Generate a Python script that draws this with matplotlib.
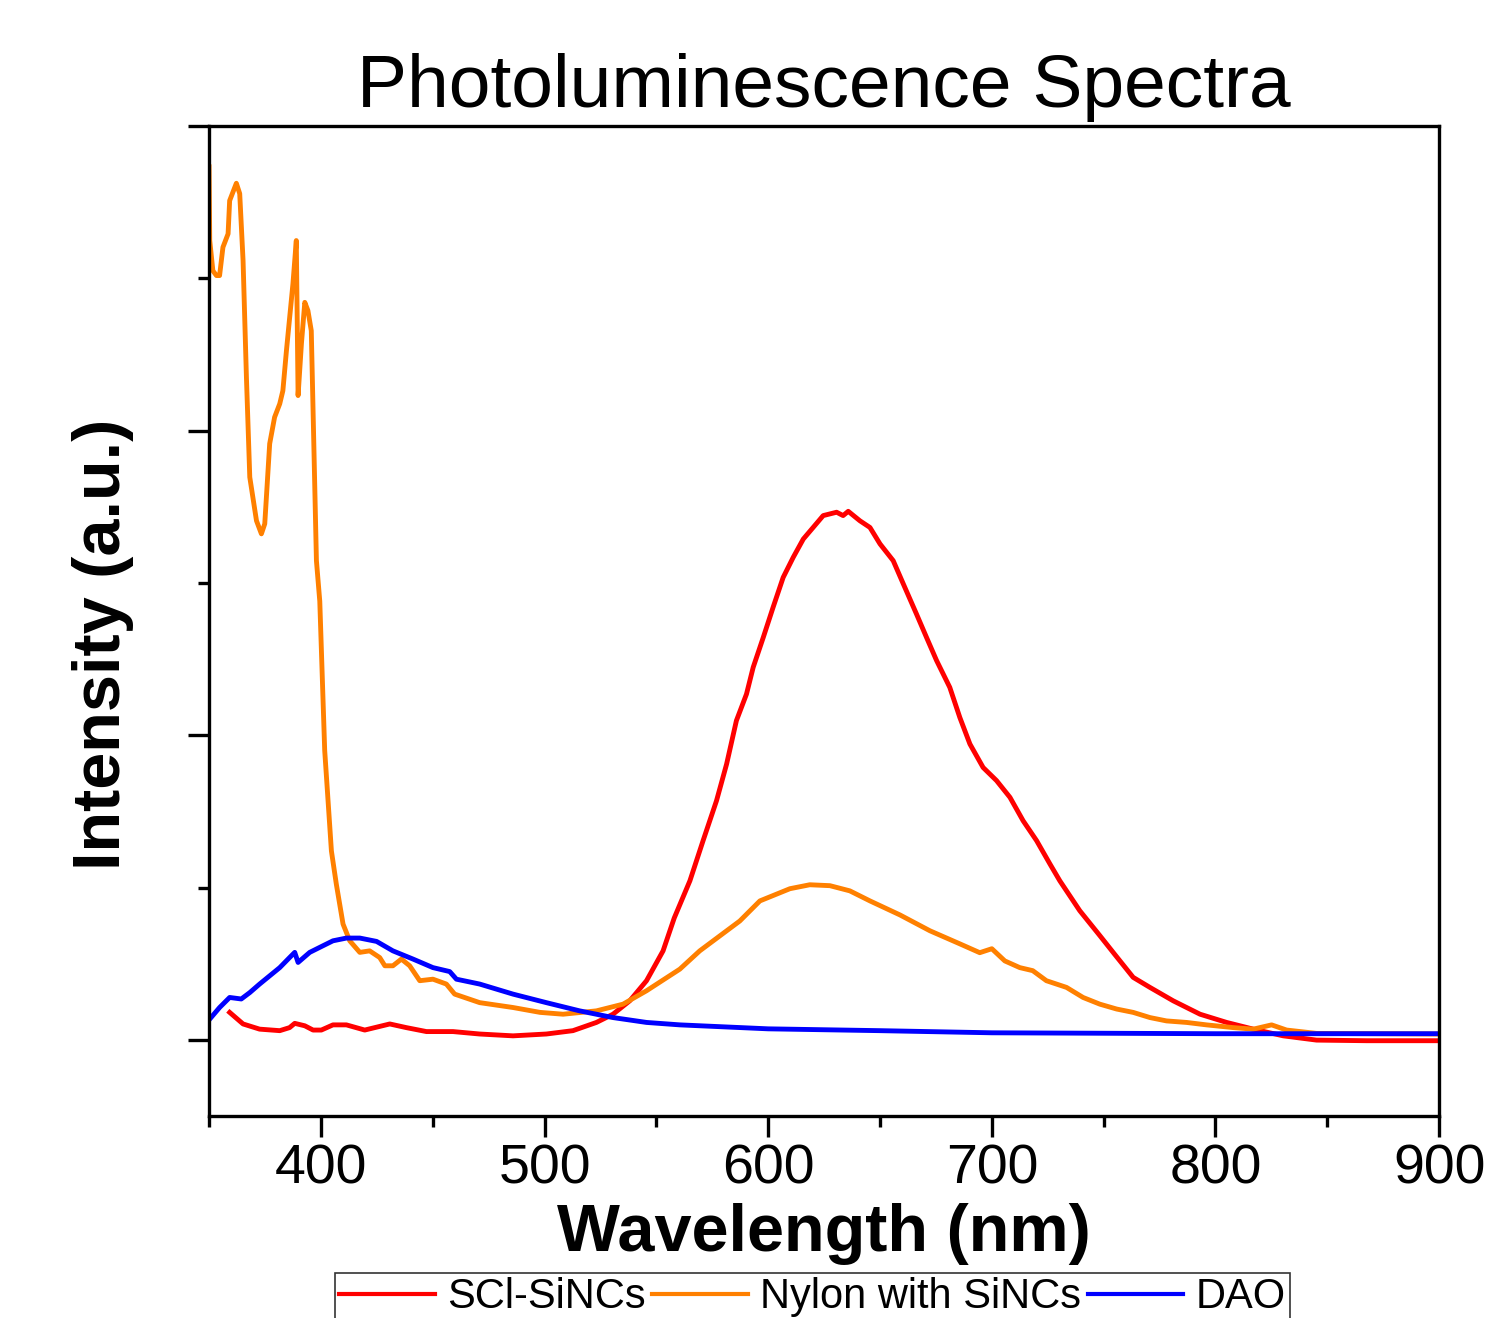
import matplotlib
matplotlib.use("Agg")
import matplotlib.pyplot as plt
from matplotlib.ticker import MultipleLocator, NullFormatter

plt.rcParams['font.family'] = ['Liberation Sans', 'DejaVu Sans']

# ---- data ----
sci_x = [359.2, 365.2, 372.6, 381.6, 386.0, 388.3, 392.8, 396.5, 400.2, 405.4, 411.4, 419.6,
         430.8, 438.2, 447.2, 459.1, 471.0, 485.9, 500.8, 512.7, 523.2, 530.6, 538.1, 545.6,
         553.0, 558.0, 565.0, 570.9, 576.9, 581.4, 585.8, 590.3, 593.3, 597.8, 602.2, 606.7,
         611.2, 615.7, 620.1, 624.6, 630.6, 633.5, 635.8, 641.0, 645.5, 650.0, 655.9, 660.4,
         666.3, 670.8, 675.3, 681.2, 685.7, 690.2, 696.1, 702.1, 708.1, 714.0, 720.0, 726.0,
         730.4, 739.3, 748.3, 755.0, 763.2, 770.7, 781.1, 793.1, 805.0, 816.9, 830.3, 845.2,
         867.6, 898.9]
sci_y = [0.090, 0.052, 0.035, 0.030, 0.040, 0.054, 0.046, 0.032, 0.032, 0.049, 0.049, 0.032,
         0.052, 0.040, 0.027, 0.027, 0.019, 0.013, 0.019, 0.030, 0.057, 0.084, 0.128, 0.194,
         0.292, 0.400, 0.522, 0.654, 0.785, 0.905, 1.048, 1.135, 1.223, 1.321, 1.420, 1.518,
         1.584, 1.644, 1.682, 1.721, 1.732, 1.721, 1.735, 1.704, 1.682, 1.628, 1.573, 1.497,
         1.398, 1.321, 1.245, 1.157, 1.058, 0.971, 0.894, 0.851, 0.796, 0.719, 0.654, 0.577,
         0.522, 0.424, 0.342, 0.280, 0.205, 0.172, 0.128, 0.084, 0.057, 0.035, 0.013, -0.001,
         -0.003, -0.003]

nylon_x = [350.0, 350.3, 351.7, 353.3, 354.7, 356.2, 358.5, 359.2, 362.2, 363.7, 365.2, 366.7,
           368.2, 371.2, 373.4, 374.9, 377.1, 379.3, 381.6, 383.0, 384.6, 387.5, 389.0, 389.8,
           391.3, 392.8, 394.2, 395.7, 396.5, 398.0, 399.5, 401.7, 404.7, 406.9, 409.9, 412.9,
           417.4, 421.8, 426.3, 428.6, 432.2, 436.0, 439.7, 444.2, 450.1, 456.1, 459.8, 471.0,
           485.9, 498.0, 508.3, 523.2, 535.1, 545.6, 560.5, 569.4, 587.3, 596.3, 609.7, 618.6,
           627.6, 636.5, 645.5, 658.9, 672.3, 685.7, 694.6, 700.0, 705.8, 712.5, 718.3, 724.4,
           733.4, 740.8, 748.3, 755.8, 763.2, 770.7, 778.1, 787.1, 796.0, 808.0, 816.9, 825.1,
           831.8, 845.2, 898.9]
nylon_y = [2.866, 2.624, 2.525, 2.509, 2.509, 2.602, 2.646, 2.755, 2.812, 2.778, 2.558, 2.175,
           1.847, 1.704, 1.661, 1.694, 1.957, 2.044, 2.088, 2.131, 2.263, 2.482, 2.624, 2.115,
           2.286, 2.421, 2.394, 2.328, 2.066, 1.573, 1.440, 0.950, 0.620, 0.511, 0.380, 0.325,
           0.287, 0.292, 0.270, 0.243, 0.243, 0.265, 0.243, 0.194, 0.199, 0.183, 0.150, 0.122,
           0.106, 0.090, 0.084, 0.095, 0.117, 0.161, 0.232, 0.292, 0.390, 0.456, 0.496, 0.509,
           0.506, 0.489, 0.456, 0.410, 0.358, 0.315, 0.286, 0.299, 0.259, 0.237, 0.227, 0.194,
           0.172, 0.139, 0.117, 0.101, 0.090, 0.073, 0.062, 0.057, 0.049, 0.040, 0.035, 0.049,
           0.032, 0.021, 0.019]

dao_x = [350.3, 354.7, 359.2, 364.4, 368.2, 372.6, 377.1, 381.6, 386.0, 388.3, 389.8, 395.0,
         401.0, 405.4, 411.4, 417.4, 424.9, 432.2, 441.2, 450.1, 457.6, 460.6, 471.0, 485.9,
         500.8, 515.7, 530.6, 545.6, 560.5, 600.0, 650.0, 700.0, 800.0, 900.0]
dao_y = [0.068, 0.106, 0.139, 0.134, 0.155, 0.183, 0.210, 0.237, 0.270, 0.287, 0.254, 0.287,
         0.309, 0.325, 0.334, 0.334, 0.323, 0.292, 0.265, 0.237, 0.224, 0.199, 0.183, 0.150,
         0.122, 0.095, 0.073, 0.057, 0.049, 0.036, 0.030, 0.023, 0.020, 0.020]

labels = ["SCl-SiNCs", "Nylon with SiNCs", "DAO"]
colors = ["#FF0000", "#FF8000", "#0000FF"]
xticks = [400, 500, 600, 700, 800, 900]

# ---- figure ----
fig = plt.figure(figsize=(14.87, 13.18), dpi=100)
ax = fig.add_axes([0.1406, 0.1533, 0.8272, 0.7511])

ax.plot(sci_x, sci_y, color=colors[0], lw=3.5, label=labels[0])
ax.plot(nylon_x, nylon_y, color=colors[1], lw=3.5, label=labels[1])
ax.plot(dao_x, dao_y, color=colors[2], lw=3.5, label=labels[2])

ax.set_xlim(350, 900)
ax.set_ylim(-0.25, 3.0)
ax.set_xticks(xticks)
ax.xaxis.set_minor_locator(MultipleLocator(50))
ax.yaxis.set_major_locator(MultipleLocator(1))
ax.yaxis.set_minor_locator(MultipleLocator(0.5))
ax.yaxis.set_major_formatter(NullFormatter())

for s in ax.spines.values():
    s.set_linewidth(2.4)
ax.tick_params(which='major', direction='out', length=15, width=2.4, labelsize=40, pad=5,
               top=False, right=False)
ax.tick_params(which='minor', direction='out', length=8, width=2.4, top=False, right=False)

ax.set_title("Photoluminescence Spectra", fontsize=54, pad=14)
ax.set_xlabel("Wavelength (nm)", fontsize=48, fontweight='bold')
ax.set_ylabel("Intensity (a.u.)", fontsize=48, fontweight='bold')
ax.xaxis.set_label_coords(0.5, -0.088)
ax.yaxis.set_label_coords(-0.061, 0.476)

leg = fig.legend(loc='upper center', bbox_to_anchor=(0.5464, 0.0341), ncol=3,
                 fontsize=30, frameon=True, fancybox=False, edgecolor='black',
                 handlelength=2.3, handletextpad=0.3, columnspacing=0.15,
                 borderpad=0.1, borderaxespad=0)
leg.get_frame().set_linewidth(1.2)
for h in leg.get_lines():
    h.set_linewidth(3.0)

fig.savefig("out.png", dpi=100)
